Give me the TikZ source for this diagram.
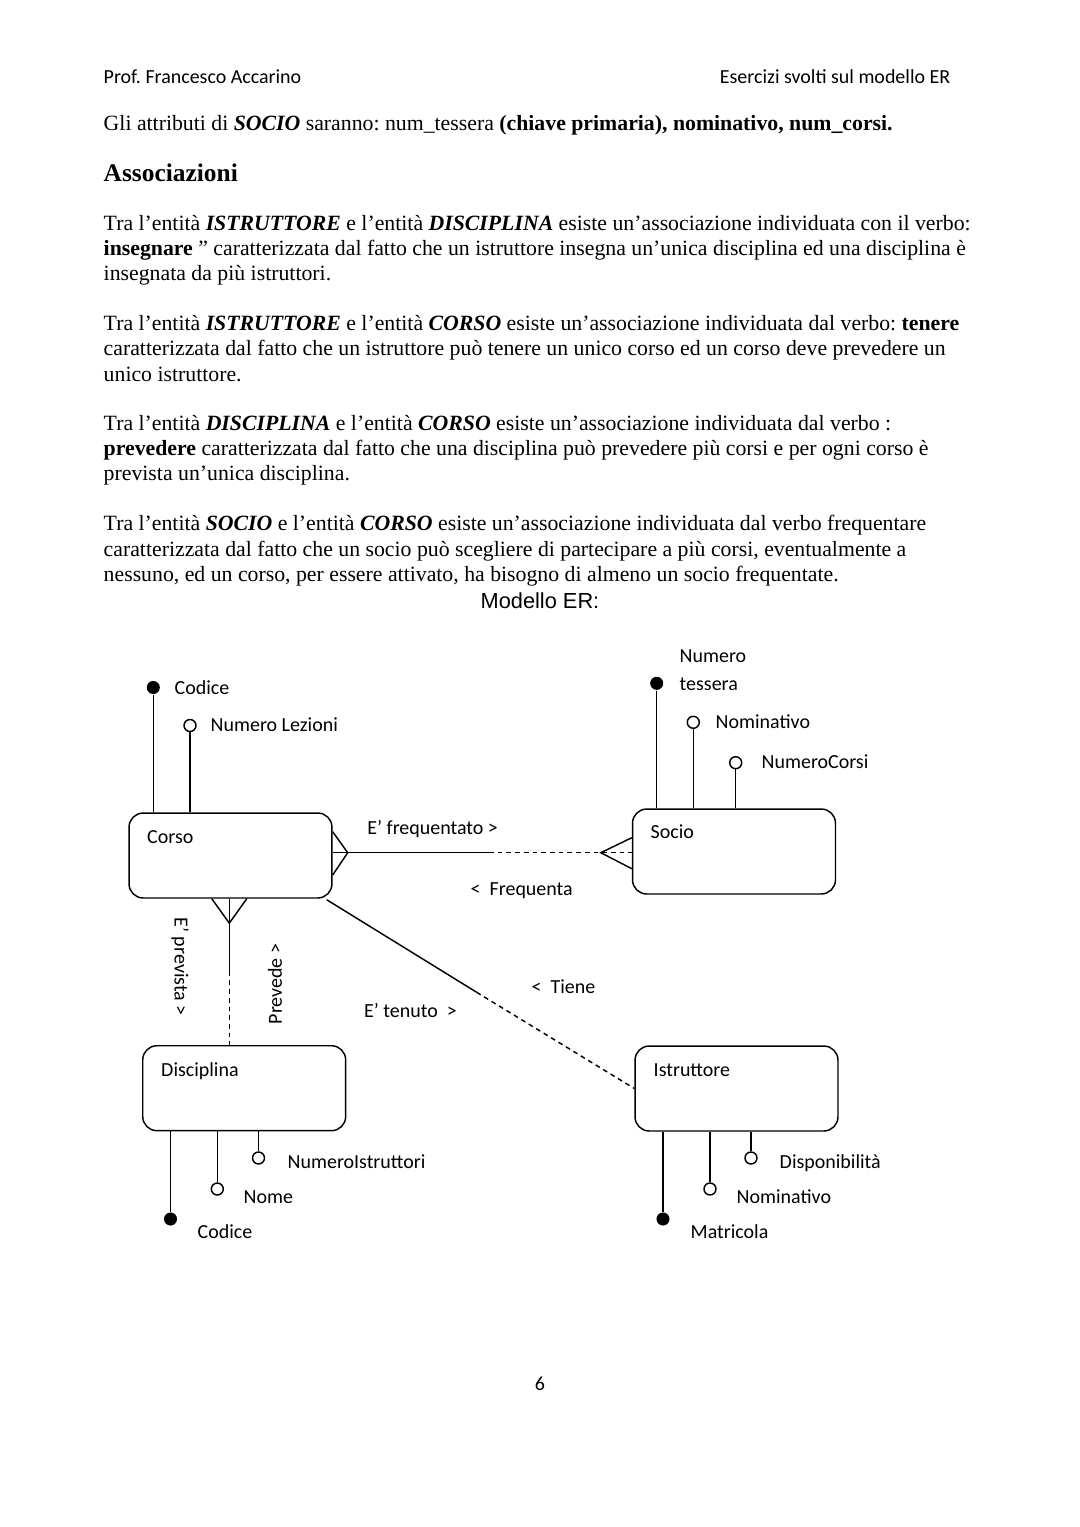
\documentclass[tikz,border=0pt]{standalone}
\usepackage{fontspec}
\setmainfont{Liberation Serif}
\newfontfamily\calibri{Carlito}
\newfontfamily\arial{Liberation Sans}
\frenchspacing
\begin{document}
\begin{tikzpicture}[x=0.5509pt, y=-0.5509pt, line width=0.8pt,
  entity/.style = {draw, rounded corners=7.8pt, minimum width=111.8pt, minimum height=46.8pt, inner sep=0pt},
  key/.style = {circle, fill, inner sep=0pt, minimum size=7.2pt},
  attr/.style = {circle, draw, fill=white, inner sep=0pt, minimum size=6.6pt},
  lbl/.style = {font=\calibri\fontsize{11}{13}\selectfont, anchor=base west, inner sep=0pt},
  txt/.style = {font=\fontsize{12}{14}\selectfont, anchor=base west, inner sep=0pt},
  weak/.style = {dash pattern=on 2.6pt off 2.2pt}]
  \fill[white] (0,0) rectangle (1080,1527);
  \useasboundingbox (0,0) rectangle (1080,1527);
  % page text
  \node[lbl] (head1) at (103,83) {Prof. Francesco Accarino};
  \node[lbl, anchor=base east] (head2) at (951,83) {Esercizi svolti sul modello ER};
  \node[txt] (t0) at (103,130) {Gli attributi di \textbf{\textit{SOCIO}} saranno: num\_tessera \textbf{(chiave primaria), nominativo, num\_corsi.}};
  \node[txt, font=\fontsize{14}{16}\selectfont\bfseries] (sec) at (103,181) {Associazioni};
  \node[txt] (p1a) at (103,230) {Tra l’entità \textbf{\textit{ISTRUTTORE}} e l’entità \textbf{\textit{DISCIPLINA}} esiste un’associazione individuata con il verbo:};
  \node[txt] (p1b) at (103,255) {\textbf{insegnare} ” caratterizzata dal fatto che un istruttore insegna un'unica disciplina ed una disciplina è};
  \node[txt] (p1c) at (103,280) {insegnata da più istruttori.};
  \node[txt] (p2a) at (103,330) {Tra l’entità \textbf{\textit{ISTRUTTORE}} e l’entità \textbf{\textit{CORSO}} esiste un’associazione individuata dal verbo: \textbf{tenere}};
  \node[txt] (p2b) at (103,355) {caratterizzata dal fatto che un istruttore può tenere un unico corso ed un corso deve prevedere un};
  \node[txt] (p2c) at (103,381) {unico istruttore.};
  \node[txt] (p3a) at (103,430) {Tra l’entità \textbf{\textit{DISCIPLINA}} e l’entità \textbf{\textit{CORSO}} esiste un’associazione individuata dal verbo :};
  \node[txt] (p3b) at (103,455) {\textbf{prevedere} caratterizzata dal fatto che una disciplina può prevedere più corsi e per ogni corso è};
  \node[txt] (p3c) at (103,480) {prevista un’unica disciplina.};
  \node[txt] (p4a) at (103,530) {Tra l’entità \textbf{\textit{SOCIO}} e l’entità \textbf{\textit{CORSO}} esiste un’associazione individuata dal verbo frequentare};
  \node[txt] (p4b) at (103,556) {caratterizzata dal fatto che un socio può scegliere di partecipare a più corsi, eventualmente a};
  \node[txt] (p4c) at (103,581) {nessuno, ed un corso, per essere attivato, ha bisogno di almeno un socio frequentate.};
  \node[txt, anchor=base, font=\arial\fontsize{12}{14}\selectfont] (title) at (540,608) {Modello ER:};
  \node[lbl, anchor=base] (pagenum) at (540,1390.5) {6};
  % entities
  \node[entity] (corso) at (230.5,855.5) {};
  \node[entity] (socio) at (734,851.5) {};
  \node[entity] (disciplina) at (244.2,1088.2) {};
  \node[entity] (istruttore) at (736.5,1088.5) {};
  \node[lbl] at (146.5,843) {Corso};
  \node[lbl] at (650,838.5) {Socio};
  \node[lbl] at (160.5,1076.5) {Disciplina};
  \node[lbl] at (653,1076.5) {Istruttore};
  % attributes
  \node[key] (c1) at (153.3,687.5) {};
  \node[attr] (c2) at (190,725.5) {};
  \node[lbl] at (174,694.5) {Codice};
  \node[lbl] at (210,731.5) {Numero Lezioni};
  \draw (c1) -- (corso.north -| c1);
  \draw (c2) -- (corso.north -| c2);
  \node[key] (s1) at (656.7,683.3) {};
  \node[attr] (s2) at (693.3,722.3) {};
  \node[attr] (s3) at (735.7,762.7) {};
  \node[lbl] at (679,662.5) {Numero};
  \node[lbl] at (679,690.5) {tessera};
  \node[lbl] at (715,728.5) {Nominativo};
  \node[lbl] at (761,768.5) {NumeroCorsi};
  \draw (s1) -- (socio.north -| s1);
  \draw (s2) -- (socio.north -| s2);
  \draw (s3) -- (socio.north -| s3);
  \node[key] (d1) at (170.5,1219) {};
  \node[attr] (d2) at (217.3,1189) {};
  \node[attr] (d3) at (258.5,1158) {};
  \node[lbl] at (197,1238.5) {Codice};
  \node[lbl] at (243,1203.5) {Nome};
  \node[lbl] at (287,1168.5) {NumeroIstruttori};
  \draw (disciplina.south -| d1) -- (d1);
  \draw (disciplina.south -| d2) -- (d2);
  \draw (disciplina.south -| d3) -- (d3);
  \node[key] (i1) at (663,1219) {};
  \node[attr] (i2) at (710,1189) {};
  \node[attr] (i3) at (751,1158) {};
  \node[lbl] at (690,1238.5) {Matricola};
  \node[lbl] at (736,1203.5) {Nominativo};
  \node[lbl] at (779,1168.5) {Disponibilità};
  \draw (istruttore.south -| i1) -- (i1);
  \draw (istruttore.south -| i2) -- (i2);
  \draw (istruttore.south -| i3) -- (i3);
  % relationships
  \coordinate (fq) at (489,852.7);
  \draw (corso.east |- fq) -- (fq);
  \draw[weak] (fq) -- (socio.west |- fq);
  \draw (corso.east |- fq) ++(0,-21) -- ++(15,21) -- ++(-15,22.3);
  \draw (socio.west |- fq) ++(0,-15) -- ++(-31,15) -- ++(31,16);
  \node[lbl] at (366.7,834.5) {E’ frequentato >};
  \node[lbl] at (470,895.5) {<\ \ Frequenta};
  \coordinate (pv) at (229.3,971.7);
  \draw (corso.south -| pv) -- (pv);
  \draw[weak] (pv) -- (disciplina.north -| pv);
  \draw (corso.south -| pv) ++(-17.5,0) -- ++(17.5,24.5) -- ++(17.5,-24.5);
  \node[lbl, anchor=center, rotate=-90] at (180,966.7) {E’ prevista >};
  \node[lbl, anchor=center, rotate=90] at (275,984) {Prevede >};
  \coordinate (tn) at (476.7,992.3);
  \draw (corso.south east) ++(-6,1) -- (tn);
  \draw[weak] (tn) -- (istruttore.west);
  \node[lbl] at (363.5,1017.5) {E’ tenuto\ \ >};
  \node[lbl] at (531,993.5) {<\ \ Tiene};
\end{tikzpicture}
\end{document}
